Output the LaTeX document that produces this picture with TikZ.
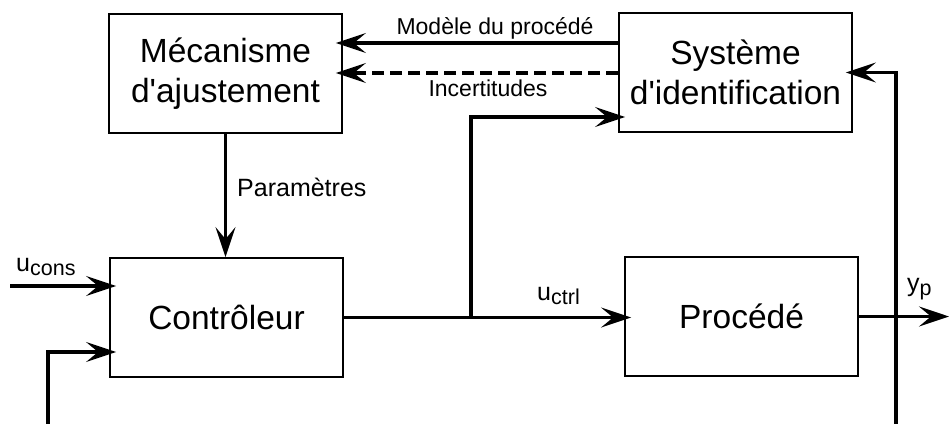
\documentclass[tikz,border=0pt]{standalone}
\usepackage{fontspec}
\setmainfont{Liberation Sans}
\usetikzlibrary{arrows.meta}
\newcommand\mysub[1]{\raisebox{-4pt}{\fontsize{21.5}{23}\selectfont #1}}
\begin{document}
\begin{tikzpicture}[x=1pt,y=-1pt,
  box/.style={draw=black,line width=1.8pt,minimum width=233pt,minimum height=119pt,inner sep=0pt,align=center,font=\fontsize{33.5}{40}\selectfont},
  arr/.style={line width=3.2pt,-{Stealth[length=30pt,width=20pt,inset=12pt]}},
  into/.style={shorten >=-7pt},
  lab/.style={font=\fontsize{23}{27}\selectfont,inner sep=0pt},
  biglab/.style={font=\fontsize{25}{29}\selectfont,inner sep=0pt}]
\useasboundingbox (0,0) rectangle (949,423);
\clip (0,0) rectangle (949,423);
\fill[white] (0,0) rectangle (949,423);

\node[box] (mech) at (225.5,73.5) {Mécanisme\\d\textquotesingle ajustement};
\node[box] (ident) at (735.5,72.5) {Système\\d\textquotesingle identification};
\node[box] (ctrl) at (226.5,317.5) {Contrôleur};
\node[box] (proc) at (741.5,316.5) {Procédé};

\coordinate (m1) at (0,43);
\coordinate (m2) at (0,73);
\coordinate (m3) at (0,117);
\coordinate (m4) at (0,286);
\coordinate (m5) at (0,352);
\coordinate (j) at (471,317.5);
\coordinate (out) at (949,316.5);
\coordinate (start) at (10,286);
\coordinate (fb1) at (896,430);
\coordinate (fb2) at (48,430);

% model and uncertainties
\draw[arr,into] (ident.west |- m1) -- (mech.east |- m1);
\draw[arr,into,dash pattern=on 12pt off 6pt] (ident.west |- m2) -- (mech.east |- m2);
\node[lab] (lmod) at (495,28) {Modèle du procédé};
\node[lab] (linc) at (488,88) {Incertitudes};

% parameters
\draw[arr] (mech.south) -- (mech.south |- ctrl.north);
\node[biglab,anchor=base west] (lpar) at (237,196) {Paramètres};

% setpoint
\draw[arr,into] (start) -- (ctrl.west |- m4);
\node[biglab,anchor=base west] (lucons) at (16,271) {u\mysub{cons}};

% control signal
\draw[arr,into] (ctrl.east) -- (proc.west |- ctrl.east);
\draw[arr,into] (j) |- (ident.west |- m3);
\node[biglab,anchor=base west] (luctrl) at (537,300) {u\mysub{ctrl}};

% output
\draw[arr] (proc.east) -- (out);
\node[biglab,anchor=base west] (lyp) at (907,291) {y\mysub{p}};

% feedbacks
\draw[arr,into] (fb1) |- (ident.east);
\draw[arr,into] (fb1) -- (fb2) |- (ctrl.west |- m5);
\end{tikzpicture}
\end{document}
